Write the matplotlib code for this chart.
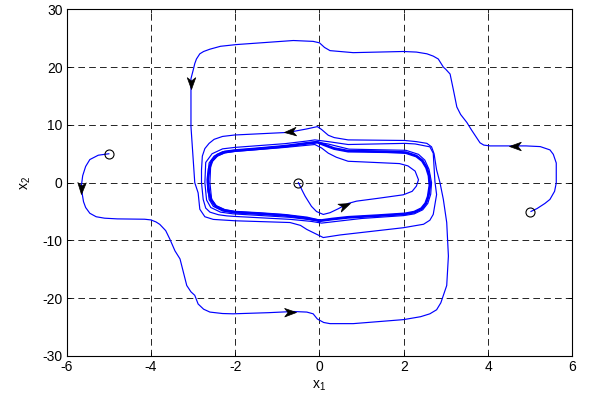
import numpy as np
import matplotlib
matplotlib.use("Agg")
import matplotlib.pyplot as plt
from matplotlib.path import Path
from matplotlib.markers import MarkerStyle
from matplotlib.transforms import Affine2D

plt.rcParams['font.family'] = ['Liberation Sans', 'DejaVu Sans']
plt.rcParams['font.size'] = 10
plt.rcParams['axes.unicode_minus'] = False

# trajectories (x1, x2)
traj1 = [(-5.0, 5.0), (-5.25, 4.75), (-5.45, 4.0), (-5.55, 2.8), (-5.62, 1.2), (-5.65, -0.5),
         (-5.63, -2.0), (-5.6, -3.3), (-5.55, -4.3), (-5.45, -5.3), (-5.3, -5.9), (-5.1, -6.15),
         (-4.8, -6.27), (-4.5, -6.3), (-4.15, -6.33), (-4.0, -6.45), (-3.88, -6.8), (-3.79, -7.22),
         (-3.65, -8.3), (-3.55, -9.79), (-3.43, -11.8), (-3.31, -13.2), (-3.23, -15.5), (-3.15, -17.8),
         (-3.05, -18.9), (-2.96, -19.5), (-2.88, -21.0), (-2.75, -21.9), (-2.60, -22.4), (-2.3, -22.65),
         (-2.05, -22.7), (-1.2, -22.5), (-0.62, -22.3), (-0.3, -22.4), (-0.15, -22.7), (-0.05, -23.6),
         (0.1, -24.2), (0.25, -24.4), (0.8, -24.4), (2.0, -23.7), (2.4, -23.2), (2.62, -22.7),
         (2.78, -22.0), (2.88, -20.8), (2.94, -19.5), (3.02, -17.8), (3.06, -12.7), (3.02, -6.9),
         (2.94, -2.9), (2.86, 0.0), (2.78, 2.2), (2.72, 5.0), (2.66, 6.2), (2.55, 6.8), (2.3, 7.1),
         (2.03, 7.3), (0.68, 7.4), (0.35, 7.8), (0.21, 8.2), (0.05, 9.2), (-0.05, 9.7),
         (-0.3, 9.3), (-0.74, 8.7), (-2.01, 8.25), (-2.3, 8.0), (-2.5, 7.5), (-2.62, 6.8),
         (-2.72, 5.9), (-2.78, 4.6), (-2.80, 2.2), (-2.80, 0.0), (-2.76, -2.9), (-2.70, -4.4),
         (-2.6, -5.1), (-2.4, -5.55), (-2.2, -5.75), (-2.0, -5.85), (-0.70, -6.35), (-0.2, -6.7),
         (0.05, -7.0), (0.4, -6.7), (1.0, -6.2), (2.0, -5.7), (2.25, -5.4), (2.45, -4.7), (2.57, -3.6),
         (2.64, -2.0), (2.66, 0.0), (2.6, 2.3), (2.5, 3.9), (2.35, 4.9), (2.05, 5.6),
         (0.7, 5.8), (0.2, 6.7), (-0.1, 7.05), (-0.8, 6.35), (-2.0, 5.6), (-2.3, 5.35), (-2.5, 4.6),
         (-2.62, 3.4), (-2.66, 0.0), (-2.62, -2.9), (-2.52, -4.1), (-2.3, -4.9), (-2.02, -5.2),
         (-0.8, -5.7), (0.0, -6.6)]

traj2 = [(5.02, -4.98), (5.16, -4.5), (5.35, -3.6), (5.47, -2.9), (5.58, -1.5), (5.62, -0.05),
         (5.62, 3.4), (5.55, 4.9), (5.47, 5.67), (5.24, 6.24), (4.9, 6.36), (4.68, 6.36), (4.05, 6.36),
         (3.9, 6.5), (3.81, 6.9), (3.61, 9.1), (3.50, 10.4), (3.35, 11.8), (3.26, 13.1), (3.18, 16.0),
         (3.10, 18.8), (3.0, 19.6), (2.94, 20.0), (2.82, 21.4), (2.7, 21.9), (2.55, 22.3), (2.3, 22.6),
         (1.99, 22.7), (0.80, 22.5), (0.25, 22.85), (0.12, 23.4), (0.0, 24.2), (-0.15, 24.45),
         (-0.62, 24.6), (-1.97, 23.9), (-2.35, 23.6), (-2.60, 23.1), (-2.75, 22.7), (-2.84, 22.3),
         (-2.92, 21.4), (-2.96, 20.6), (-3.0, 19.4), (-3.05, 18.0), (-3.05, 9.7), (-2.96, 0.0),
         (-2.88, -1.77), (-2.84, -4.6), (-2.72, -5.9), (-2.52, -6.36), (-2.0, -6.6), (-0.70, -6.9),
         (-0.45, -7.4), (-0.30, -8.1), (0.09, -9.5), (0.49, -9.05), (1.99, -7.8), (2.47, -7.2),
         (2.62, -6.5), (2.70, -5.5), (2.78, -2.06), (2.74, 0.2), (2.70, 5.1), (2.62, 6.2), (2.27, 6.7),
         (2.03, 6.8), (0.68, 6.6), (0.21, 7.1), (-0.11, 7.4), (-0.3, 7.2), (-0.82, 6.75), (-2.01, 6.1),
         (-2.3, 5.85), (-2.55, 5.0), (-2.70, 3.5), (-2.72, 0.0), (-2.68, -3.0), (-2.58, -4.3),
         (-2.35, -5.1), (-2.05, -5.4), (-0.7, -6.0), (0.0, -6.6)]

traj3 = [(-0.50, 0.0), (-0.46, -0.6), (-0.40, -1.5), (-0.34, -2.35), (-0.19, -4.1), (-0.07, -5.0),
         (0.09, -5.5), (0.25, -5.2), (0.45, -4.5), (0.68, -3.6), (0.88, -3.2), (1.4, -2.7),
         (1.99, -2.1), (2.2, -1.5), (2.30, -0.6), (2.35, 0.5), (2.27, 2.0), (2.1, 2.9), (1.9, 3.3),
         (1.0, 3.6), (0.68, 3.7), (0.4, 4.4), (0.21, 5.1), (0.05, 6.0), (-0.11, 6.6), (-0.82, 6.1),
         (-2.01, 5.4), (-2.25, 5.15), (-2.45, 4.5), (-2.58, 3.4), (-2.6, 0.0), (-2.56, -2.9),
         (-2.46, -4.0), (-2.25, -4.7), (-2.0, -5.0), (-0.82, -5.55), (0.0, -6.45)]

# limit cycle (thick band)
cycle = [(0.0, -6.6), (0.3, -6.3), (0.68, -6.0), (1.4, -5.7), (2.03, -5.4), (2.25, -5.1),
         (2.42, -4.5), (2.52, -3.6), (2.58, -2.4), (2.62, -0.5), (2.60, 1.2), (2.54, 2.6),
         (2.44, 3.8), (2.30, 4.6), (2.05, 5.2), (1.6, 5.35), (0.68, 5.45), (0.35, 5.9), (0.13, 6.5),
         (-0.05, 7.0), (-0.3, 6.8), (-0.82, 6.3), (-1.5, 5.85), (-2.01, 5.55), (-2.25, 5.3),
         (-2.42, 4.8), (-2.55, 3.8), (-2.62, 2.4), (-2.65, 0.5), (-2.63, -1.5), (-2.57, -3.0),
         (-2.46, -4.1), (-2.25, -4.8), (-2.01, -5.1), (-1.4, -5.35), (-0.82, -5.65), (-0.3, -6.1),
         (0.0, -6.6)]

starts = [(-5.0, 5.0), (5.0, -5.0), (-0.5, 0.0)]

# arrows: tip, point behind the tip
arrows = [((-5.65, -1.9), (-5.64, -0.3)),
          ((-3.05, 16.2), (-3.05, 18.3)),
          ((-0.85, 8.7), (-0.4, 8.95)),
          ((4.50, 6.36), (4.9, 6.36)),
          ((-0.55, -22.4), (-1.0, -22.45)),
          ((0.72, -3.45), (0.35, -4.6))]

fig = plt.figure(figsize=(5.89, 4.05), dpi=100)
ax = fig.add_axes([0.1132, 0.121, 0.8584, 0.856])

for tr in (traj1, traj2, traj3):
    pts = np.array(tr + cycle)
    ax.plot(pts[:, 0], pts[:, 1], color='#0000ff', lw=0.85)
c = np.array(cycle)
ax.plot(c[:, 0], c[:, 1], color='#0000ff', lw=2.0)

s = np.array(starts)
ax.plot(s[:, 0], s[:, 1], 'o', ms=6.5, mfc='none', mec='k', mew=0.8)

ax.set_xlim(-6, 6)
ax.set_ylim(-30, 30)
ax.set_xticks(np.arange(-6, 7, 2))
ax.set_yticks(np.arange(-30, 31, 10))
ax.grid(True, color='k', linestyle=(0, (8, 5)), lw=0.6)
ax.tick_params(direction='in', top=True, right=True, length=3, width=0.6, labelsize=10, pad=3)
for sp in ax.spines.values():
    sp.set_linewidth(0.8)
ax.set_xlabel(r'$\mathregular{x_1}$', labelpad=3)
ax.set_ylabel(r'$\mathregular{x_2}$', labelpad=7)

head = Path([(0, 0), (-1, 0.36), (-0.72, 0), (-1, -0.36), (0, 0)],
            [Path.MOVETO, Path.LINETO, Path.LINETO, Path.LINETO, Path.CLOSEPOLY])
for tip, back in arrows:
    p1 = ax.transData.transform(back)
    p2 = ax.transData.transform(tip)
    ang = np.degrees(np.arctan2(p2[1] - p1[1], p2[0] - p1[0]))
    m = MarkerStyle(head, transform=Affine2D().rotate_deg(ang))
    ax.plot([tip[0]], [tip[1]], marker=m, ms=17, color='k', mec='k', mew=0.5, ls='none', zorder=5)

fig.savefig('out.png', dpi=100)
